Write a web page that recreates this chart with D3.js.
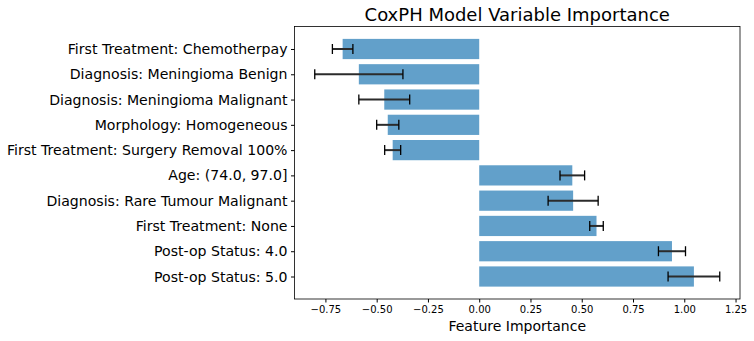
<!DOCTYPE html>
<html>
<head>
<meta charset="utf-8">
<title>CoxPH Model Variable Importance</title>
<style>
  body { margin: 0; background: #fff; }
  text { font-family: "DejaVu Sans", sans-serif; fill: #000; }
</style>
<script src="https://cdn.jsdelivr.net/npm/d3@7"></script>
</head>
<body>
<svg width="754" height="341"></svg>
<script>
// variables, top to bottom as drawn
var features = [
  "First Treatment: Chemotherpay",
  "Diagnosis: Meningioma Benign",
  "Diagnosis: Meningioma Malignant",
  "Morphology: Homogeneous",
  "First Treatment: Surgery Removal 100%",
  "Age: (74.0, 97.0]",
  "Diagnosis: Rare Tumour Malignant",
  "First Treatment: None",
  "Post-op Status: 4.0",
  "Post-op Status: 5.0"
];
var importance = [-0.666, -0.587, -0.463, -0.446, -0.422, 0.454, 0.458, 0.572, 0.94, 1.047];
var errors = [0.05, 0.215, 0.124, 0.054, 0.039, 0.06, 0.122, 0.033, 0.066, 0.126];
var xTicks = [-0.75, -0.5, -0.25, 0, 0.25, 0.5, 0.75, 1.0, 1.25];

var svg = d3.select("svg");
var margin = {left: 294.5, right: 14, top: 26.5, bottom: 42};
var width = 754 - margin.left - margin.right,
    height = 341 - margin.top - margin.bottom;

var g = svg.append("g")
    .attr("transform", "translate(" + margin.left + "," + margin.top + ")");

// matplotlib style 5% margins around data incl. error bars
var lo = d3.min(importance, function(d, i) { return Math.min(d, 0) - (d < 0 ? errors[i] : 0); });
var hi = d3.max(importance, function(d, i) { return d + errors[i]; });
var pad = (hi - lo) * 0.05;

var x = d3.scaleLinear()
    .domain([lo - pad, hi + pad])
    .range([0, width]);

// bar i at y = n-1-i (first feature at top), height 0.8
var n = features.length;
var ypad = (n - 1 + 0.8) * 0.05;
var y = d3.scaleLinear()
    .domain([-0.4 - ypad, n - 1 + 0.4 + ypad])
    .range([height, 0]);

g.selectAll("rect.bar")
    .data(importance)
  .enter().append("rect")
    .attr("class", "bar")
    .attr("x", function(d) { return x(Math.min(0, d)); })
    .attr("width", function(d) { return Math.abs(x(d) - x(0)); })
    .attr("y", function(d, i) { return y(n - 1 - i + 0.4); })
    .attr("height", function() { return y(0) - y(0.8); })
    .attr("fill", "#1f77b4")
    .attr("fill-opacity", 0.7);

// error bars
var eb = g.selectAll("g.err")
    .data(importance)
  .enter().append("g")
    .attr("class", "err")
    .attr("stroke", "#2b2b2b");

eb.append("line")
    .attr("x1", function(d, i) { return x(d - errors[i]); })
    .attr("x2", function(d, i) { return x(d + errors[i]); })
    .attr("y1", function(d, i) { return y(n - 1 - i); })
    .attr("y2", function(d, i) { return y(n - 1 - i); })
    .attr("stroke-width", 2);

[-1, 1].forEach(function(s) {
  eb.append("line")
      .attr("x1", function(d, i) { return x(d + s * errors[i]); })
      .attr("x2", function(d, i) { return x(d + s * errors[i]); })
      .attr("y1", function(d, i) { return y(n - 1 - i) - 5; })
      .attr("y2", function(d, i) { return y(n - 1 - i) + 5; })
      .attr("stroke", "#000")
      .attr("stroke-width", 1.3);
});

// x axis
var xAxis = g.append("g")
    .attr("transform", "translate(0," + height + ")")
    .call(d3.axisBottom(x).tickValues(xTicks).tickSize(3.5).tickPadding(3.5)
      .tickFormat(function(d) { return d3.format(".2f")(d).replace("-", "\u2212"); }));
xAxis.selectAll("text").style("font-size", "10px");
xAxis.select(".domain").remove();

// y axis
var yAxis = g.append("g")
    .call(d3.axisLeft(y).tickValues(d3.range(n)).tickSize(3.5).tickPadding(3.5)
      .tickFormat(function(d) { return features[n - 1 - d]; }));
yAxis.selectAll("text").style("font-size", "14.1px");
yAxis.select(".domain").remove();

// frame
g.append("rect")
    .attr("width", width)
    .attr("height", height)
    .attr("fill", "none")
    .attr("stroke", "#000")
    .attr("stroke-width", 0.8);

svg.append("text")
    .attr("x", margin.left + width / 2)
    .attr("y", 21)
    .attr("text-anchor", "middle")
    .style("font-size", "18px")
    .text("CoxPH Model Variable Importance");

svg.append("text")
    .attr("x", margin.left + width / 2)
    .attr("y", 331)
    .attr("text-anchor", "middle")
    .style("font-size", "14px")
    .text("Feature Importance");
</script>
</body>
</html>
